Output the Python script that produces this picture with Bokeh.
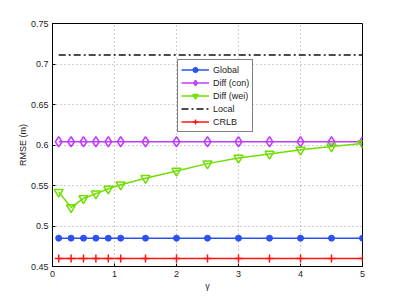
from bokeh.plotting import figure
from bokeh.models import FixedTicker, Legend, LegendItem, Range1d
from bokeh.embed import file_html
from bokeh.resources import INLINE

# ---- data ----
gamma = [0.1, 0.3, 0.5, 0.7, 0.9, 1.1, 1.5, 2.0, 2.5, 3.0, 3.5, 4.0, 4.5, 5.0]
rmse_global = [0.485, 0.485, 0.485, 0.485, 0.485, 0.485, 0.485, 0.485, 0.485, 0.485, 0.485, 0.485, 0.485, 0.485]
rmse_diff_con = [0.604, 0.604, 0.604, 0.604, 0.604, 0.604, 0.604, 0.604, 0.604, 0.604, 0.604, 0.604, 0.604, 0.604]
rmse_diff_wei = [0.542, 0.523, 0.534, 0.540, 0.546, 0.551, 0.559, 0.568, 0.577, 0.584, 0.589, 0.594, 0.598, 0.602]
rmse_local = [0.711, 0.711, 0.711, 0.711, 0.711, 0.711, 0.711, 0.711, 0.711, 0.711, 0.711, 0.711, 0.711, 0.711]
rmse_crlb = [0.46, 0.46, 0.46, 0.46, 0.46, 0.46, 0.46, 0.46, 0.46, 0.46, 0.46, 0.46, 0.46, 0.46]

x_ticks = [0, 1, 2, 3, 4, 5]
x_tick_labels = ["0", "1", "2", "3", "4", "5"]
y_ticks = [0.45, 0.5, 0.55, 0.6, 0.65, 0.7, 0.75]
y_tick_labels = ["0.45", "0.5", "0.55", "0.6", "0.65", "0.7", "0.75"]

series_names = ["Global", "Diff (con)", "Diff (wei)", "Local", "CRLB"]

FONT = "Liberation Sans"

p = figure(frame_width=310, frame_height=243,
           x_range=Range1d(0, 5), y_range=Range1d(0.45, 0.75),
           output_backend="svg", toolbar_location=None,
           min_border_left=52, min_border_top=23, min_border_right=21, min_border_bottom=26)

p.outline_line_color = "black"
p.outline_line_width = 1
p.background_fill_color = "white"
p.border_fill_color = "white"

# axes
p.xaxis.ticker = FixedTicker(ticks=x_ticks)
p.yaxis.ticker = FixedTicker(ticks=y_ticks)
p.xaxis.major_label_overrides = {t: l for t, l in zip(x_ticks, x_tick_labels)}
p.yaxis.major_label_overrides = {t: l for t, l in zip(y_ticks, y_tick_labels)}
for ax in (p.xaxis[0], p.yaxis[0]):
    ax.major_tick_in = 3
    ax.major_tick_out = 0
    ax.minor_tick_in = 0
    ax.minor_tick_out = 0
    ax.axis_line_color = "black"
    ax.major_tick_line_color = "black"
    ax.major_label_text_font = FONT
    ax.major_label_text_font_size = "9px"
    ax.major_label_text_color = "#222222"
    ax.axis_label_text_font = FONT
    ax.axis_label_text_font_size = "9px"
    ax.axis_label_text_font_style = "normal"
    ax.axis_label_text_color = "#222222"
    ax.major_label_standoff = 4
p.xaxis.axis_label = "γ"
p.xaxis.axis_label_standoff = 1
p.yaxis.axis_label = "RMSE (m)"
p.yaxis.axis_label_standoff = 0

# grid
for g in (p.xgrid[0], p.ygrid[0]):
    g.grid_line_color = "#888888"
    g.grid_line_dash = "1 3"
    g.grid_line_width = 1
    g.grid_line_alpha = 0.8
p.xgrid.ticker = FixedTicker(ticks=x_ticks)
p.ygrid.ticker = FixedTicker(ticks=y_ticks)

# series
c_blue = "#2a52f0"
c_mag = "#c03cff"
c_green = "#6ee000"
c_red = "#ff1414"

r1l = p.line(gamma, rmse_global, line_color=c_blue, line_width=1.5)
r1m = p.scatter(gamma, rmse_global, marker="circle", size=6, fill_color=c_blue, line_color=c_blue)

r2l = p.line(gamma, rmse_diff_con, line_color=c_mag, line_width=1.5)
r2m = p.scatter(gamma, rmse_diff_con, marker="diamond", size=10, fill_color="white", fill_alpha=0,
                line_color=c_mag, line_width=1.5)

r3l = p.line(gamma, rmse_diff_wei, line_color=c_green, line_width=1.5)
r3m = p.scatter(gamma, rmse_diff_wei, marker="inverted_triangle", size=9, fill_color="white", fill_alpha=0,
                line_color=c_green, line_width=1.5)

r4l = p.line(gamma, rmse_local, line_color="#111111", line_width=1.5, line_dash="7 3 2 3")

r5l = p.line(gamma, rmse_crlb, line_color=c_red, line_width=1.5)
r5m = p.scatter(gamma, rmse_crlb, marker="cross", size=8, line_color=c_red, line_width=1.5)

legend = Legend(items=[
    LegendItem(label=series_names[0], renderers=[r1l, r1m]),
    LegendItem(label=series_names[1], renderers=[r2l, r2m]),
    LegendItem(label=series_names[2], renderers=[r3l, r3m]),
    LegendItem(label=series_names[3], renderers=[r4l]),
    LegendItem(label=series_names[4], renderers=[r5l, r5m]),
], location=(125, 134))
legend.border_line_color = "black"
legend.border_line_width = 1
legend.background_fill_color = "white"
legend.background_fill_alpha = 1
legend.label_text_font = FONT
legend.label_text_font_size = "9px"
legend.label_text_color = "#222222"
legend.label_height = 13
legend.glyph_height = 13
legend.glyph_width = 28
legend.label_standoff = 4
legend.spacing = 0
legend.padding = 3
legend.margin = 0
p.add_layout(legend, "center")

open("out.html", "w").write(file_html(p, INLINE))
